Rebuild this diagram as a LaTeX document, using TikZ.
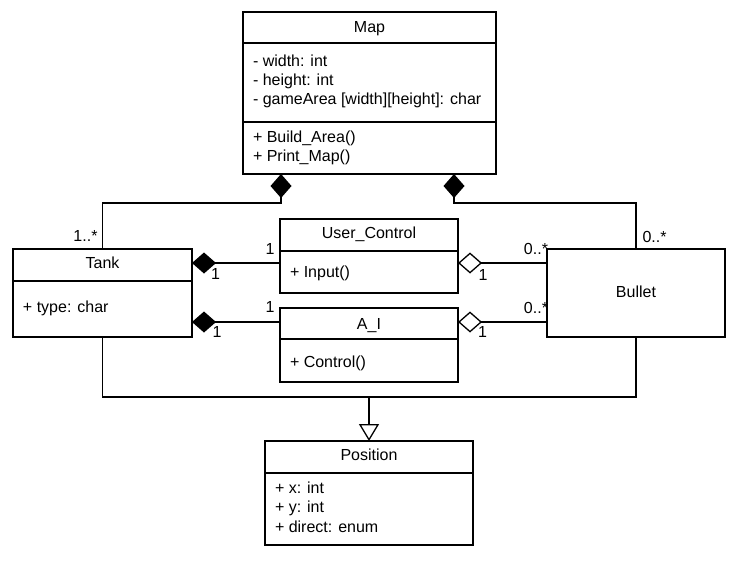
\documentclass[tikz,border=0pt]{standalone}
\usepackage{fontspec}
\setmainfont{Liberation Sans}
\usetikzlibrary{arrows.meta}
\begin{document}
\begin{tikzpicture}[x=1pt,y=-1pt,
  every node/.style={inner sep=0pt,outer sep=0pt,font=\fontsize{16}{19}\selectfont},
  cls/.style={draw,line width=1.3pt,anchor=north west,minimum width=#1},
  txt/.style={anchor=base west},
  ttl/.style={anchor=base},
  lbl/.style={anchor=base},
  conn/.style={line width=1.3pt},
  comp/.style={conn,-{Diamond[length=24pt,width=21pt,fill=black]}},
  aggr/.style={conn,-{Diamond[length=24pt,width=21pt,fill=white]}},
  gen/.style={conn,-{Triangle[length=17pt,width=20pt,fill=white]}}]
\useasboundingbox (0,0) rectangle (736,562);
% classes
\node[cls=253pt,minimum height=162pt] (map) at (243,12) {};
\node[cls=179pt,minimum height=88pt] (tank) at (13,249) {};
\node[cls=178pt,minimum height=74pt] (uc) at (280,219) {};
\node[cls=178pt,minimum height=74pt] (ai) at (280,308) {};
\node[cls=178pt,minimum height=88pt] (bullet) at (547,249) {};
\node[cls=208pt,minimum height=104pt] (pos) at (265,441) {};
% separators
\draw[conn] (map.west |- 0,43) -- (map.east |- 0,43);
\draw[conn] (map.west |- 0,122) -- (map.east |- 0,122);
\draw[conn] (tank.west |- 0,281) -- (tank.east |- 0,281);
\draw[conn] (uc.west |- 0,251) -- (uc.east |- 0,251);
\draw[conn] (ai.west |- 0,339) -- (ai.east |- 0,339);
\draw[conn] (pos.west |- 0,473) -- (pos.east |- 0,473);
% texts
\node[ttl] (mapT) at (369.5,32) {Map};
\node[txt] (mapA1) at (253,66) {- width: int};
\node[txt] (mapA2) at (253,85) {- height: int};
\node[txt] (mapA3) at (253,104) {- gameArea [width][height]: char};
\node[txt] (mapM1) at (253,142) {+ Build\_Area()};
\node[txt] (mapM2) at (253,161) {+ Print\_Map()};
\node[ttl] (tankT) at (102.5,268.5) {Tank};
\node[txt] (tankA) at (23,312.5) {+ type: char};
\node[ttl] (ucT) at (369,238.5) {User\_Control};
\node[txt] (ucM) at (290,277) {+ Input()};
\node[ttl] (aiT) at (369,329) {A\_I};
\node[txt] (aiM) at (290,367.5) {+ Control()};
\node[ttl] (bulletT) at (636,297) {Bullet};
\node[ttl] (posT) at (369,460.5) {Position};
\node[txt] (posA1) at (275,493.5) {+ x: int};
\node[txt] (posA2) at (275,512.5) {+ y: int};
\node[txt] (posA3) at (275,532) {+ direct: enum};
% composition from Map
\draw[comp] (tank.north) -- ++(0,-46) -| ([xshift=-88.5pt]map.south);
\draw[comp] (bullet.north) -- ++(0,-46) -| ([xshift=84.5pt]map.south);
% UC / AI connections
\coordinate (ucL) at ([yshift=-7pt]uc.west);
\coordinate (ucR) at ([yshift=-7pt]uc.east);
\coordinate (aiL) at ([yshift=23pt]ai.west);
\coordinate (aiR) at ([yshift=23pt]ai.east);
\draw[comp] (ucL) -- (ucL -| tank.east);
\draw[comp] (aiL) -- (aiL -| tank.east);
\draw[aggr] (ucR -| bullet.west) -- (ucR);
\draw[aggr] (aiR -| bullet.west) -- (aiR);
% generalization
\coordinate (join) at (pos.north |- 0,397);
\draw[conn] (tank.south) |- (join) -| (bullet.south);
\draw[gen] (join) -- (pos.north);
% multiplicities
\node[anchor=base east] (m1) at (97.5,241) {1..*};
\node[anchor=base west] (m2) at (642.5,242) {0..*};
\node[lbl] (m3) at (270,254) {1};
\node[lbl] (m4) at (215.5,279) {1};
\node[lbl] (m5) at (270,312) {1};
\node[lbl] (m6) at (217,337) {1};
\node[lbl] (m7) at (483,280) {1};
\node[lbl] (m8) at (482.5,337) {1};
\node[anchor=base east] (m9) at (548,254) {0..*};
\node[anchor=base east] (m10) at (548,313) {0..*};
\end{tikzpicture}
\end{document}
